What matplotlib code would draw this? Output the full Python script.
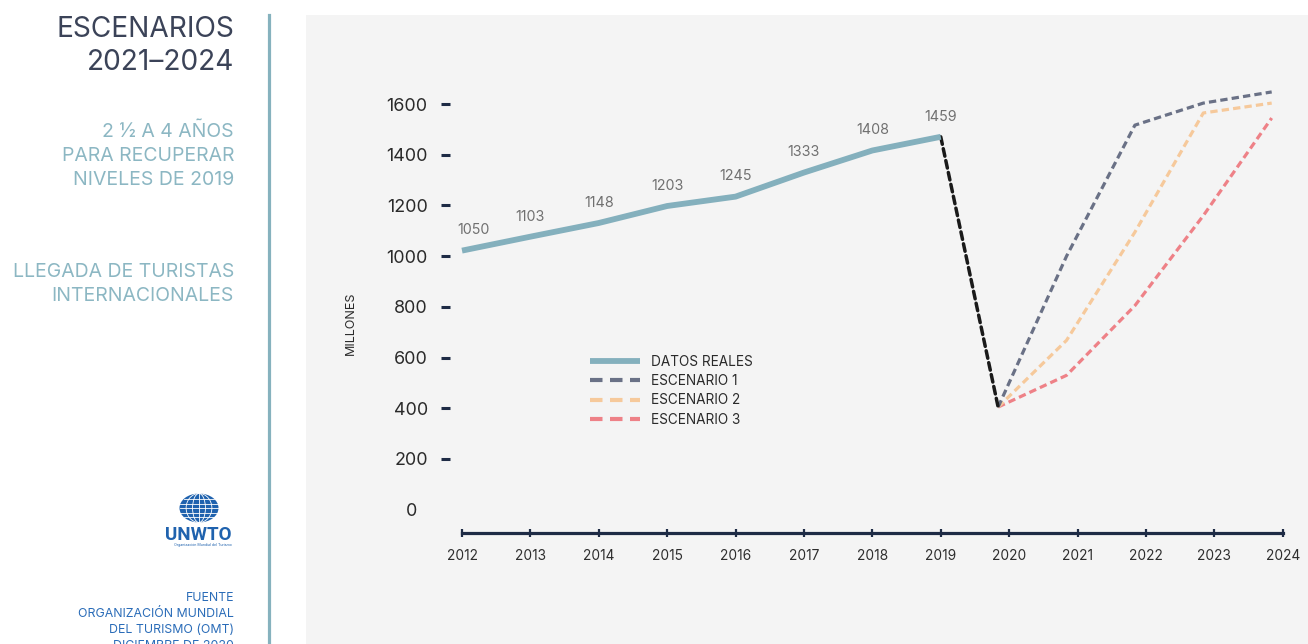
import numpy as np
import matplotlib
matplotlib.use('Agg')
import matplotlib.pyplot as plt
import matplotlib.transforms as mtransforms
from matplotlib.patches import Rectangle, Ellipse, ConnectionPatch
from matplotlib.lines import Line2D

plt.rcParams['font.family'] = ['Inter', 'DejaVu Sans']

# data
hist_years = [2012, 2013, 2014, 2015, 2016, 2017, 2018, 2019]
hist_values = [1022, 1077, 1131, 1198, 1235, 1330, 1417, 1471]
hist_labels = ['1050', '1103', '1148', '1203', '1245', '1333', '1408', '1459']

scen_years = [2020, 2021, 2022, 2023, 2024]
scen1 = [405, 1000, 1517, 1604, 1648]
scen2 = [405, 668, 1095, 1565, 1604]
scen3 = [405, 530, 805, 1160, 1545]

year_ticks = list(range(2012, 2025))
value_ticks = list(range(0, 1601, 200))
legend_labels = ['DATOS REALES', 'ESCENARIO 1', 'ESCENARIO 2', 'ESCENARIO 3']

# colours
c_hist = '#84b0bd'
c_s1 = '#6a7186'
c_s2 = '#f6c99b'
c_s3 = '#ee8187'
c_navy = '#1e2b45'
c_title = '#3b4358'
c_sub = '#8cb7c3'
c_blue = '#2a6cb8'

W, H = 1308, 644
fig = plt.figure(figsize=(W / 100, H / 100), dpi=100)
fig.patch.set_facecolor('white')


def fx(x):
    return x / W


def fy(y):
    return 1 - y / H


# grey chart panel and separator
fig.add_artist(Rectangle((fx(306), 0), fx(W - 306), (H - 15) / H, transform=fig.transFigure,
                         facecolor='#f4f4f4', edgecolor='none', zorder=-10))
fig.add_artist(Line2D([fx(269), fx(269)], [0, fy(15)], transform=fig.transFigure,
                      color='#86b2be', lw=2.3, zorder=-5))

##### left side texts #####
for txt, base in zip(['ESCENARIOS', '2021–2024'], [37.3, 70]):
    fig.text(fx(234), fy(base), txt, ha='right', va='baseline', fontsize=20.2, color=c_title)

for txt, base in zip(['2 ½ A 4 AÑOS', 'PARA RECUPERAR', 'NIVELES DE 2019'], [136.7, 160.7, 184.5]):
    fig.text(fx(234), fy(base), txt, ha='right', va='baseline', fontsize=14, color=c_sub)

for txt, base in zip(['LLEGADA DE TURISTAS', 'INTERNACIONALES'], [276.7, 301]):
    fig.text(fx(234), fy(base), txt, ha='right', va='baseline', fontsize=14, color=c_sub)

for txt, base in zip(['FUENTE', 'ORGANIZACIÓN MUNDIAL', 'DEL TURISMO (OMT)', 'DICIEMBRE DE 2020'],
                     [600.7, 616.7, 632.7, 648.7]):
    fig.text(fx(234), fy(base), txt, ha='right', va='baseline', fontsize=8.9, color=c_blue)

# UNWTO logo
lax = fig.add_axes([fx(160), fy(552), fx(78), 62 / H])
lax.set_xlim(160, 238)
lax.set_ylim(552, 490)
lax.axis('off')
gx, gy, gw, gh = 199, 508, 39, 29
lax.add_patch(Ellipse((gx, gy), gw, gh, facecolor='#1f62ae', edgecolor='none'))
for w in (gw * 0.66, gw * 0.33):
    lax.add_patch(Ellipse((gx, gy), w, gh, fill=False, edgecolor='white', lw=0.6))
lax.plot([gx, gx], [gy - gh / 2, gy + gh / 2], color='white', lw=0.6)
for dy in (-9, -4.5, 0, 4.5, 9):
    half = gw / 2 * np.sqrt(1 - (dy / (gh / 2)) ** 2)
    lax.plot([gx - half, gx + half], [gy + dy, gy + dy], color='white', lw=0.6)
lax.text(232, 540, 'UNWTO', ha='right', va='baseline', fontsize=13.5, fontweight='bold',
         family=['Roboto', 'DejaVu Sans'], color='#1f62ae')
lax.text(232, 546, 'Organización Mundial del Turismo', ha='right', va='baseline', fontsize=2.6,
         color='#1f62ae')

##### main chart #####
ax = fig.add_axes([fx(450), fy(533), fx(840), 473 / H])
ax.set_facecolor('none')
ax.set_xlim(2012 - 12 / 68.33, 2024 + 7.3 / 68.33)
ax.set_ylim(-92, 1774)

for side in ('top', 'right', 'left'):
    ax.spines[side].set_visible(False)
ax.spines['bottom'].set_color(c_navy)
ax.spines['bottom'].set_linewidth(2.3)
ax.spines['bottom'].set_bounds(2012, 2024)

ax.set_xticks(year_ticks)
ax.set_xticklabels([str(y) for y in year_ticks])
ax.tick_params(axis='x', direction='inout', length=6, width=1.6, color=c_navy, pad=8.5,
               labelsize=9.9, labelcolor='#2e2e2e')
ax.set_yticks(value_ticks)
ax.set_yticklabels([str(v) for v in value_ticks])
ax.tick_params(axis='y', direction='out', length=6.5, width=2.2, color=c_navy, pad=9.5,
               labelsize=12.9, labelcolor='#2a2a2a')
zero_tick = ax.yaxis.get_major_ticks()[0]
zero_tick.tick1line.set_visible(False)
zero_tick.set_pad(17)

fig.text(fx(351), fy(323), 'MILLONES', rotation=90, ha='center', va='center',
         fontsize=9, color='#2a2a2a')

# historical data
ax.plot(hist_years, hist_values, color=c_hist, lw=4.2, solid_capstyle='butt', zorder=3)
for i, (x, v, lab) in enumerate(zip(hist_years, hist_values, hist_labels)):
    dx = 8 if i == 0 else 0
    ax.annotate(lab, (x, v), xytext=(dx, 14.5), textcoords='offset points', ha='center',
                va='center', fontsize=10.3, color='#707070')

# scenarios (drawn slightly left of the year ticks as in the original)
scen_trans = mtransforms.offset_copy(ax.transData, fig=fig, x=-11, y=0, units='dots')
for vals, col in [(scen3, c_s3), (scen2, c_s2), (scen1, c_s1)]:
    ax.plot(scen_years, vals, color=col, lw=2.3, dashes=(2.3, 1.3), transform=scen_trans,
            zorder=2)

# drop from 2019 to 2020
con = ConnectionPatch(xyA=(hist_years[-1], hist_values[-1]), coordsA=ax.transData,
                      xyB=(scen_years[0], scen1[0]), coordsB=scen_trans,
                      color='#1a1a1a', lw=2.5, linestyle=(0, (2.2, 1.3)), zorder=2)
ax.add_artist(con)

# legend
handles = [Line2D([], [], color=c_hist, lw=4.2, solid_capstyle='butt'),
           Line2D([], [], color=c_s1, lw=3, dashes=(3, 1.8)),
           Line2D([], [], color=c_s2, lw=3, dashes=(3, 1.8)),
           Line2D([], [], color=c_s3, lw=3, dashes=(3, 1.8))]
leg = fig.legend(handles, legend_labels, loc='upper left', bbox_to_anchor=(fx(590), fy(355)),
                 frameon=False, fontsize=9.8, handlelength=3.7, handletextpad=0.8,
                 labelspacing=0.38, borderpad=0, borderaxespad=0)
for t in leg.get_texts():
    t.set_color('#2a2a2a')

plt.savefig('out.png', dpi=100)
